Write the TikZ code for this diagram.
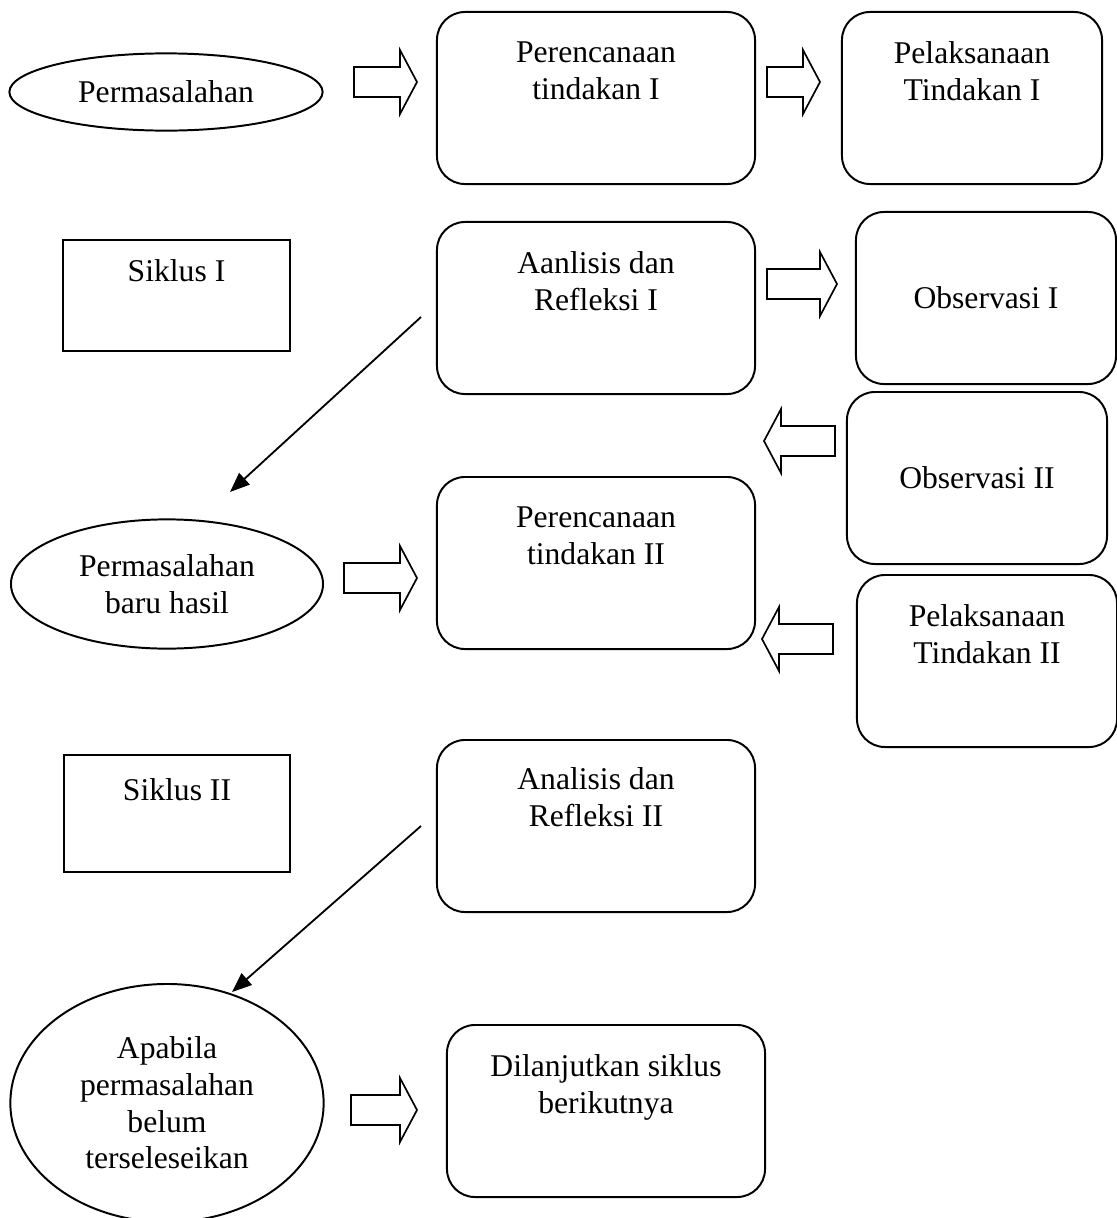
\documentclass[tikz,border=0pt]{standalone}
\usepackage{fontspec}
\setmainfont{Liberation Serif}
\usetikzlibrary{positioning,shapes.geometric,arrows.meta}
\newcommand\BlockR[1]{+(0,-15) -- +(#1-17,-15) -- +(#1-17,-32) -- +(#1,0) -- +(#1-17,32) -- +(#1-17,15) -- +(0,15) -- cycle}
\newcommand\BlockL[1]{+(0,0) -- +(17,-32) -- +(17,-15) -- +(#1,-15) -- +(#1,15) -- +(17,15) -- +(17,32) -- cycle}

\begin{document}
\begin{tikzpicture}[x=0.025cm,y=-0.025cm,line width=1.4pt,
	font=\fontsize{22.5}{26}\selectfont,
	roundbox/.style={draw,rounded corners=0.7cm,minimum width=7.95cm,minimum height=4.3cm,inner sep=0pt},
	narrowbox/.style={roundbox,minimum width=6.5cm},
	plainbox/.style={draw,minimum width=5.65cm,inner sep=0pt},
	oval/.style={draw,ellipse,inner sep=0pt,align=center},
	boxtext/.style={align=center,inner sep=0pt,execute at begin node=\strut},
	blockarrow/.style={line width=1.2pt,fill=white},
	link/.style={-{Triangle[length=14pt,width=11pt]},line width=1.3pt}]
		\clip (0,0) rectangle (1117,1218);
		% left column
		\node[oval,minimum width=7.83cm,minimum height=1.93cm] (prob) at (166,92) {Permasalahan};
		\node[plainbox,minimum height=2.78cm] (sik1) at (176.5,295.5) {};
		\node[boxtext,below=0.4cm of sik1.north] (sik1t) {Siklus I};
		\node[oval,minimum width=7.8cm,minimum height=3.23cm] (probb) at (167,584) {Permasalahan\\baru hasil};
		\node[plainbox,minimum height=2.93cm] (sik2) at (177,813.5) {};
		\node[boxtext,below=0.5cm of sik2.north] (sik2t) {Siklus II};
		\node[oval,minimum width=7.83cm,minimum height=5.95cm] (probc) at (167,1103) {Apabila\\permasalahan\\belum\\terseleseikan};
		% middle column
		\node[roundbox] (renc1) at (596,98) {};
		\node[boxtext,below=0.75cm of renc1.north] (renc1t) {Perencanaan\\tindakan I};
		\node[roundbox] (anal1) at (596,308) {};
		\node[boxtext,below=0.75cm of anal1.north] (anal1t) {Aanlisis dan\\Refleksi I};
		\node[roundbox] (renc2) at (596,563) {};
		\node[boxtext,below=0.75cm of renc2.north] (renc2t) {Perencanaan\\tindakan II};
		\node[roundbox] (anal2) at (596,826) {};
		\node[boxtext,below=0.7cm of anal2.north] (anal2t) {Analisis dan\\Refleksi II};
		\node[roundbox] (lanjut) at (606,1111) {};
		\node[boxtext,below=0.75cm of lanjut.north] (lanjutt) {Dilanjutkan siklus\\berikutnya};
		% right column
		\node[narrowbox] (laks1) at (972,98) {};
		\node[boxtext,below=0.75cm of laks1.north] (laks1t) {Pelaksanaan\\Tindakan I};
		\node[narrowbox] (obs1) at (986,298) {Observasi I};
		\node[narrowbox] (obs2) at (977,478) {Observasi II};
		\node[narrowbox] (laks2) at (987,661) {};
		\node[boxtext,below=0.75cm of laks2.north] (laks2t) {Pelaksanaan\\Tindakan II};
		% block arrows
		\draw[blockarrow] (354,82) \BlockR{63};
		\draw[blockarrow] (767,82) \BlockR{53};
		\draw[blockarrow] (767,284) \BlockR{70};
		\draw[blockarrow] (764,441) \BlockL{71};
		\draw[blockarrow] (762,639) \BlockL{71};
		\draw[blockarrow] (344,578) \BlockR{73};
		\draw[blockarrow] (351,1110) \BlockR{66};
		% back to the left column
		\coordinate (ret1a) at (421,317);
		\coordinate (ret1b) at (230,492);
		\coordinate (ret2a) at (421,826);
		\coordinate (ret2b) at (232,992);
		\draw[link] (ret1a) -- (ret1b);
		\draw[link] (ret2a) -- (ret2b);
\end{tikzpicture}
\end{document}
